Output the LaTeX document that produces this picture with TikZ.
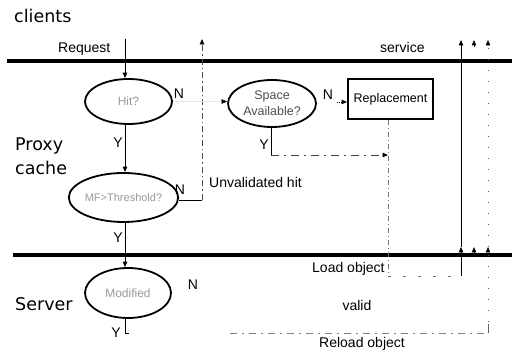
\documentclass[tikz,border=0pt]{standalone}
\usepackage{fontspec}
\setmainfont{Liberation Sans}
\newfontfamily\headfont{DejaVu Sans}
\usetikzlibrary{shapes.geometric,arrows.meta}

\begin{document}
\begin{tikzpicture}[x=1pt,y=-1pt,
  tip/.tip={Triangle[length=5.5pt,width=4.5pt]},
  bar/.style={line width=4.6pt},
  head/.style={font=\headfont\fontsize{17.5}{20}\selectfont, inner sep=0pt},
  lbl/.style={font=\fontsize{14}{16}\selectfont, inner sep=0pt},
  yn/.style={font=\fontsize{14}{16}\selectfont, inner sep=0pt},
  decision/.style={ellipse, draw, line width=1.8pt, inner sep=0pt,
                   font=\fontsize{12}{16}\selectfont, text=black!40, align=center},
  procbox/.style={rectangle, draw, line width=1.9pt, inner sep=0pt,
                  minimum width=85pt, minimum height=40pt,
                  font=\fontsize{12.5}{14}\selectfont},
  flow/.style={line width=1pt, -tip},
  plain/.style={line width=0.9pt},
  dashdot/.style={line width=0.8pt, draw=black!70, dash pattern=on 6pt off 3pt on 1.5pt off 3pt},
  ydash/.style={line width=0.9pt, draw=black!75, dash pattern=on 8pt off 5pt on 2pt off 5pt},
  repldash/.style={line width=0.7pt, draw=black!55, dash pattern=on 5pt off 3pt on 1pt off 3pt},
  loaddash/.style={line width=0.8pt, draw=black!55, dash pattern=on 3pt off 12pt},
  sparsedot/.style={line width=0.9pt, draw=black!65, dash pattern=on 1pt off 10pt},
  reloaddash/.style={line width=0.8pt, draw=black!50, dash pattern=on 7pt off 5pt on 2pt off 5pt},
  faint/.style={line width=0.6pt, draw=black!10}
]
\useasboundingbox (0,0) rectangle (512,355);

% the three layers
\draw[bar] (7,61) -- (512,61);
\draw[bar] (13,255) -- (512,255);
\node[head, anchor=base west] (clients) at (14,23) {clients};
\node[head, anchor=base west] (proxy) at (15,151) {Proxy};
\node[head, anchor=base west] (cache) at (15,175) {cache};
\node[head, anchor=base west] (server) at (15,311) {Server};

% decisions and the replacement step
\node[decision, minimum width=87pt, minimum height=45pt] (hit) at (128.5,101.5) {Hit?};
\node[decision, minimum width=88pt, minimum height=47pt, text=black!70,
      font=\fontsize{12.5}{16}\selectfont] (space) at (272,103.5) {Space\\Available?};
\node[decision, minimum width=95pt, minimum height=49pt,
      font=\fontsize{11}{13}\selectfont] (mf) at (123.5,197.5) {MF>Threshold?};
\node[decision, minimum width=86pt, minimum height=50pt] (mod) at (128,293) {Modified};
\node[procbox] (repl) at (390.5,99) {Replacement};

% main request path
\coordinate (reqtop) at (125,39);
\draw[flow] (reqtop) -- (reqtop |- hit.north);
\draw[flow] (reqtop |- hit.south) -- (reqtop |- mf.north);
\draw[flow] (reqtop |- mf.south) -- (reqtop |- mod.north);
\coordinate (modfoot) at (125,333);
\coordinate (modtick) at (129,333);
\draw[plain] (reqtop |- mod.south) -- (modfoot) -- (modtick);

% unvalidated hit back to the clients
\coordinate (uvcorner) at (202,200);
\coordinate (uvtop) at (202,39);
\draw[plain] (mf.east |- uvcorner) -- (uvcorner);
\draw[dashdot, -{Triangle[length=5.5pt,width=4.5pt,color=black]}] (uvcorner) -- (uvtop);

% miss: space check and replacement
\draw[faint, -{Triangle[length=5.5pt,width=4.5pt,color=black]}] (hit.east) -- (space.west |- hit.east);
\coordinate (spN) at (337,102);
\draw[line width=0.8pt, densely dotted, -tip] (spN) -- (spN -| repl.west);
\coordinate (spY) at (271,155);
\coordinate (loadcorner) at (388,276);
\draw[plain] (spY |- space.south) -- (spY);
\draw[ydash, -{Triangle[length=5.5pt,width=4.5pt,color=black]}] (spY) -- (spY -| loadcorner);
\draw[repldash] (loadcorner |- repl.south) -- (loadcorner);

% load object and service to the clients
\coordinate (svcbot) at (461,276);
\coordinate (svcmid) at (461,247);
\coordinate (svctop) at (461,40);
\draw[loaddash] (loadcorner) -- (svcbot);
\draw[flow] (svcbot) -- (svcmid);
\draw[flow] (svcmid) -- (svctop);

% middle service arrow
\coordinate (midlow) at (474,256);
\coordinate (midmid) at (474,247);
\coordinate (midhigh) at (474,47);
\coordinate (midtop) at (474,40);
\draw[flow] (midlow) -- (midmid);
\draw[flow] (midhigh) -- (midtop);

% reload object
\coordinate (rlstart) at (230,333);
\coordinate (rlcorner) at (488,333);
\coordinate (rlmid) at (488,247);
\coordinate (rltop) at (488,40);
\draw[reloaddash] (rlstart) -- (rlcorner);
\draw[line width=0.8pt, draw=black!60] (rlcorner) -- ++(0,-9);
\draw[sparsedot, -{Triangle[length=5.5pt,width=4.5pt,color=black]}] (rlcorner) -- (rlmid);
\draw[sparsedot, -{Triangle[length=5.5pt,width=4.5pt,color=black]}] (rlmid) -- (rltop);

% labels
\node[lbl, anchor=base west] (request) at (58,53) {Request};
\node[lbl, anchor=base west] (service) at (380,53) {service};
\node[lbl, anchor=base west] (unval) at (209,188) {Unvalidated hit};
\node[lbl, anchor=base west] (load) at (312,273) {Load object};
\node[lbl] (valid) at (357,305) {valid};
\node[lbl, anchor=base west] (reload) at (319,348) {Reload object};

\node[yn] (hitN) at (179,94) {N};
\node[yn] (spaceN) at (328,95) {N};
\node[yn] (mfN) at (180,190) {N};
\node[yn] (modN) at (193,285) {N};
\node[yn] (hitY) at (118,143) {Y};
\node[yn] (spaceY) at (264,145) {Y};
\node[yn] (mfY) at (118,238) {Y};
\node[yn] (modY) at (116,333) {Y};
\end{tikzpicture}
\end{document}
